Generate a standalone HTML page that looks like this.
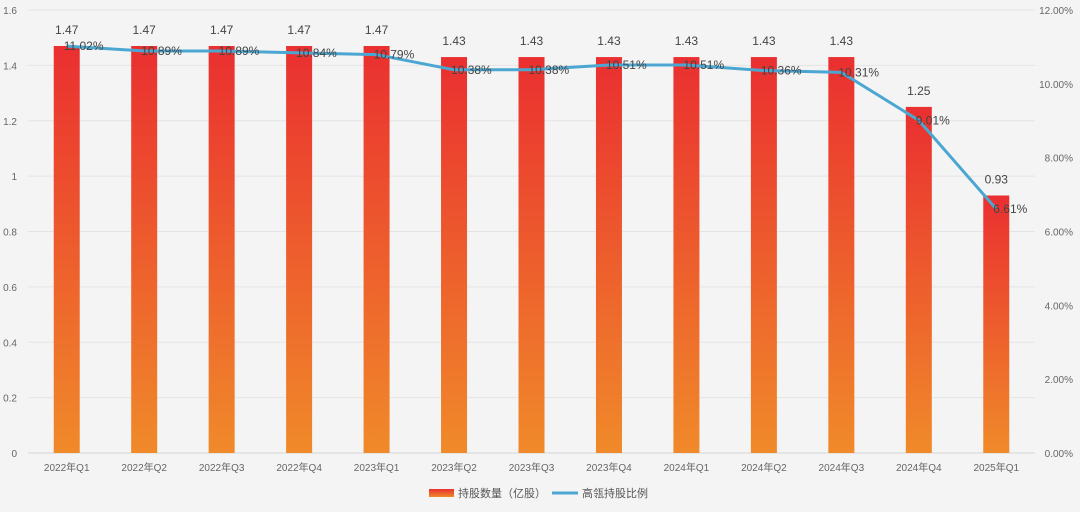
<!DOCTYPE html>
<html><head><meta charset="utf-8"><style>
body{margin:0;background:#f4f4f4;font-family:"Liberation Sans","Noto Sans CJK SC",sans-serif}
</style></head><body>
<svg id="c" width="1080" height="507" xmlns="http://www.w3.org/2000/svg">
<defs><linearGradient id="g" x1="0" y1="0" x2="0" y2="1"><stop offset="0" stop-color="#ea2f30"/><stop offset="1" stop-color="#f08a2a"/></linearGradient></defs>
<rect width="1080" height="507" fill="#f4f4f4"/>
</svg>
<script>
const categories=["2022年Q1","2022年Q2","2022年Q3","2022年Q4","2023年Q1","2023年Q2","2023年Q3","2023年Q4","2024年Q1","2024年Q2","2024年Q3","2024年Q4","2025年Q1"];
const shares=[1.47,1.47,1.47,1.47,1.47,1.43,1.43,1.43,1.43,1.43,1.43,1.25,0.93];
const ratio=[11.02,10.89,10.89,10.84,10.79,10.38,10.38,10.51,10.51,10.36,10.31,9.01,6.61];
const leftTicks=[0,0.2,0.4,0.6,0.8,1,1.2,1.4,1.6];
const rightTicks=[0,2,4,6,8,10,12];
const svg=document.getElementById('c');const NS="http://www.w3.org/2000/svg";
const X0=28,X1=1035,Y0=453,Y1=10;
const band=(X1-X0)/categories.length;
const xc=i=>X0+band*(i+0.5);
const yL=v=>Y0-(v/1.6)*(Y0-Y1);
const yR=v=>Y0-(v/12)*(Y0-Y1);
function el(t,a,txt){const e=document.createElementNS(NS,t);for(const k in a)e.setAttribute(k,a[k]);if(txt!=null)e.textContent=txt;svg.appendChild(e);return e;}
leftTicks.forEach(v=>{
 const l=el('line',{x1:X0,x2:X1,y1:yL(v),y2:yL(v),stroke:v===0?'#d6d6d6':'#e4e4e4','stroke-width':1});
 
 
 const t=el('text',{x:17,y:yL(v)+4,'text-anchor':'end','font-size':10,fill:'#666'},String(v));
 
 
});
rightTicks.forEach(v=>{
 const t=el('text',{x:1073,y:yR(v)+4,'text-anchor':'end','font-size':10,fill:'#666'},v.toFixed(2)+'%');
 
 
});
categories.forEach((c,i)=>{
 const b=el('rect',{x:xc(i)-13,y:yL(shares[i]),width:26,height:Y0-yL(shares[i]),fill:'url(#g)'});
 
 
 const t=el('text',{x:xc(i),y:yL(shares[i])-12,'text-anchor':'middle','font-size':12,fill:'#444'},shares[i].toFixed(2));
 
 
 const x=el('text',{x:xc(i),y:471,'text-anchor':'middle','font-size':10,fill:'#666'},c);
 
 
});
const p=el('polyline',{points:ratio.map((v,i)=>xc(i)+','+yR(v)).join(' '),fill:'none',stroke:'#4ba7d1','stroke-width':3,'stroke-linejoin':'round'});


ratio.forEach((v,i)=>{
 const t=el('text',{x:xc(i)-3,y:yR(v)+4,'font-size':12,fill:'#444'},v.toFixed(2)+'%');
 
 
});
const l1=el('rect',{x:429,y:489,width:25,height:8,fill:'url(#g)'});


const l2=el('text',{x:458,y:497,'font-size':11,fill:'#555'},'持股数量（亿股）');


const l3=el('line',{x1:552,x2:578,y1:493,y2:493,stroke:'#4ba7d1','stroke-width':3});


const l4=el('text',{x:582,y:497,'font-size':11,fill:'#555'},'高瓴持股比例');


</script>
</body></html>
